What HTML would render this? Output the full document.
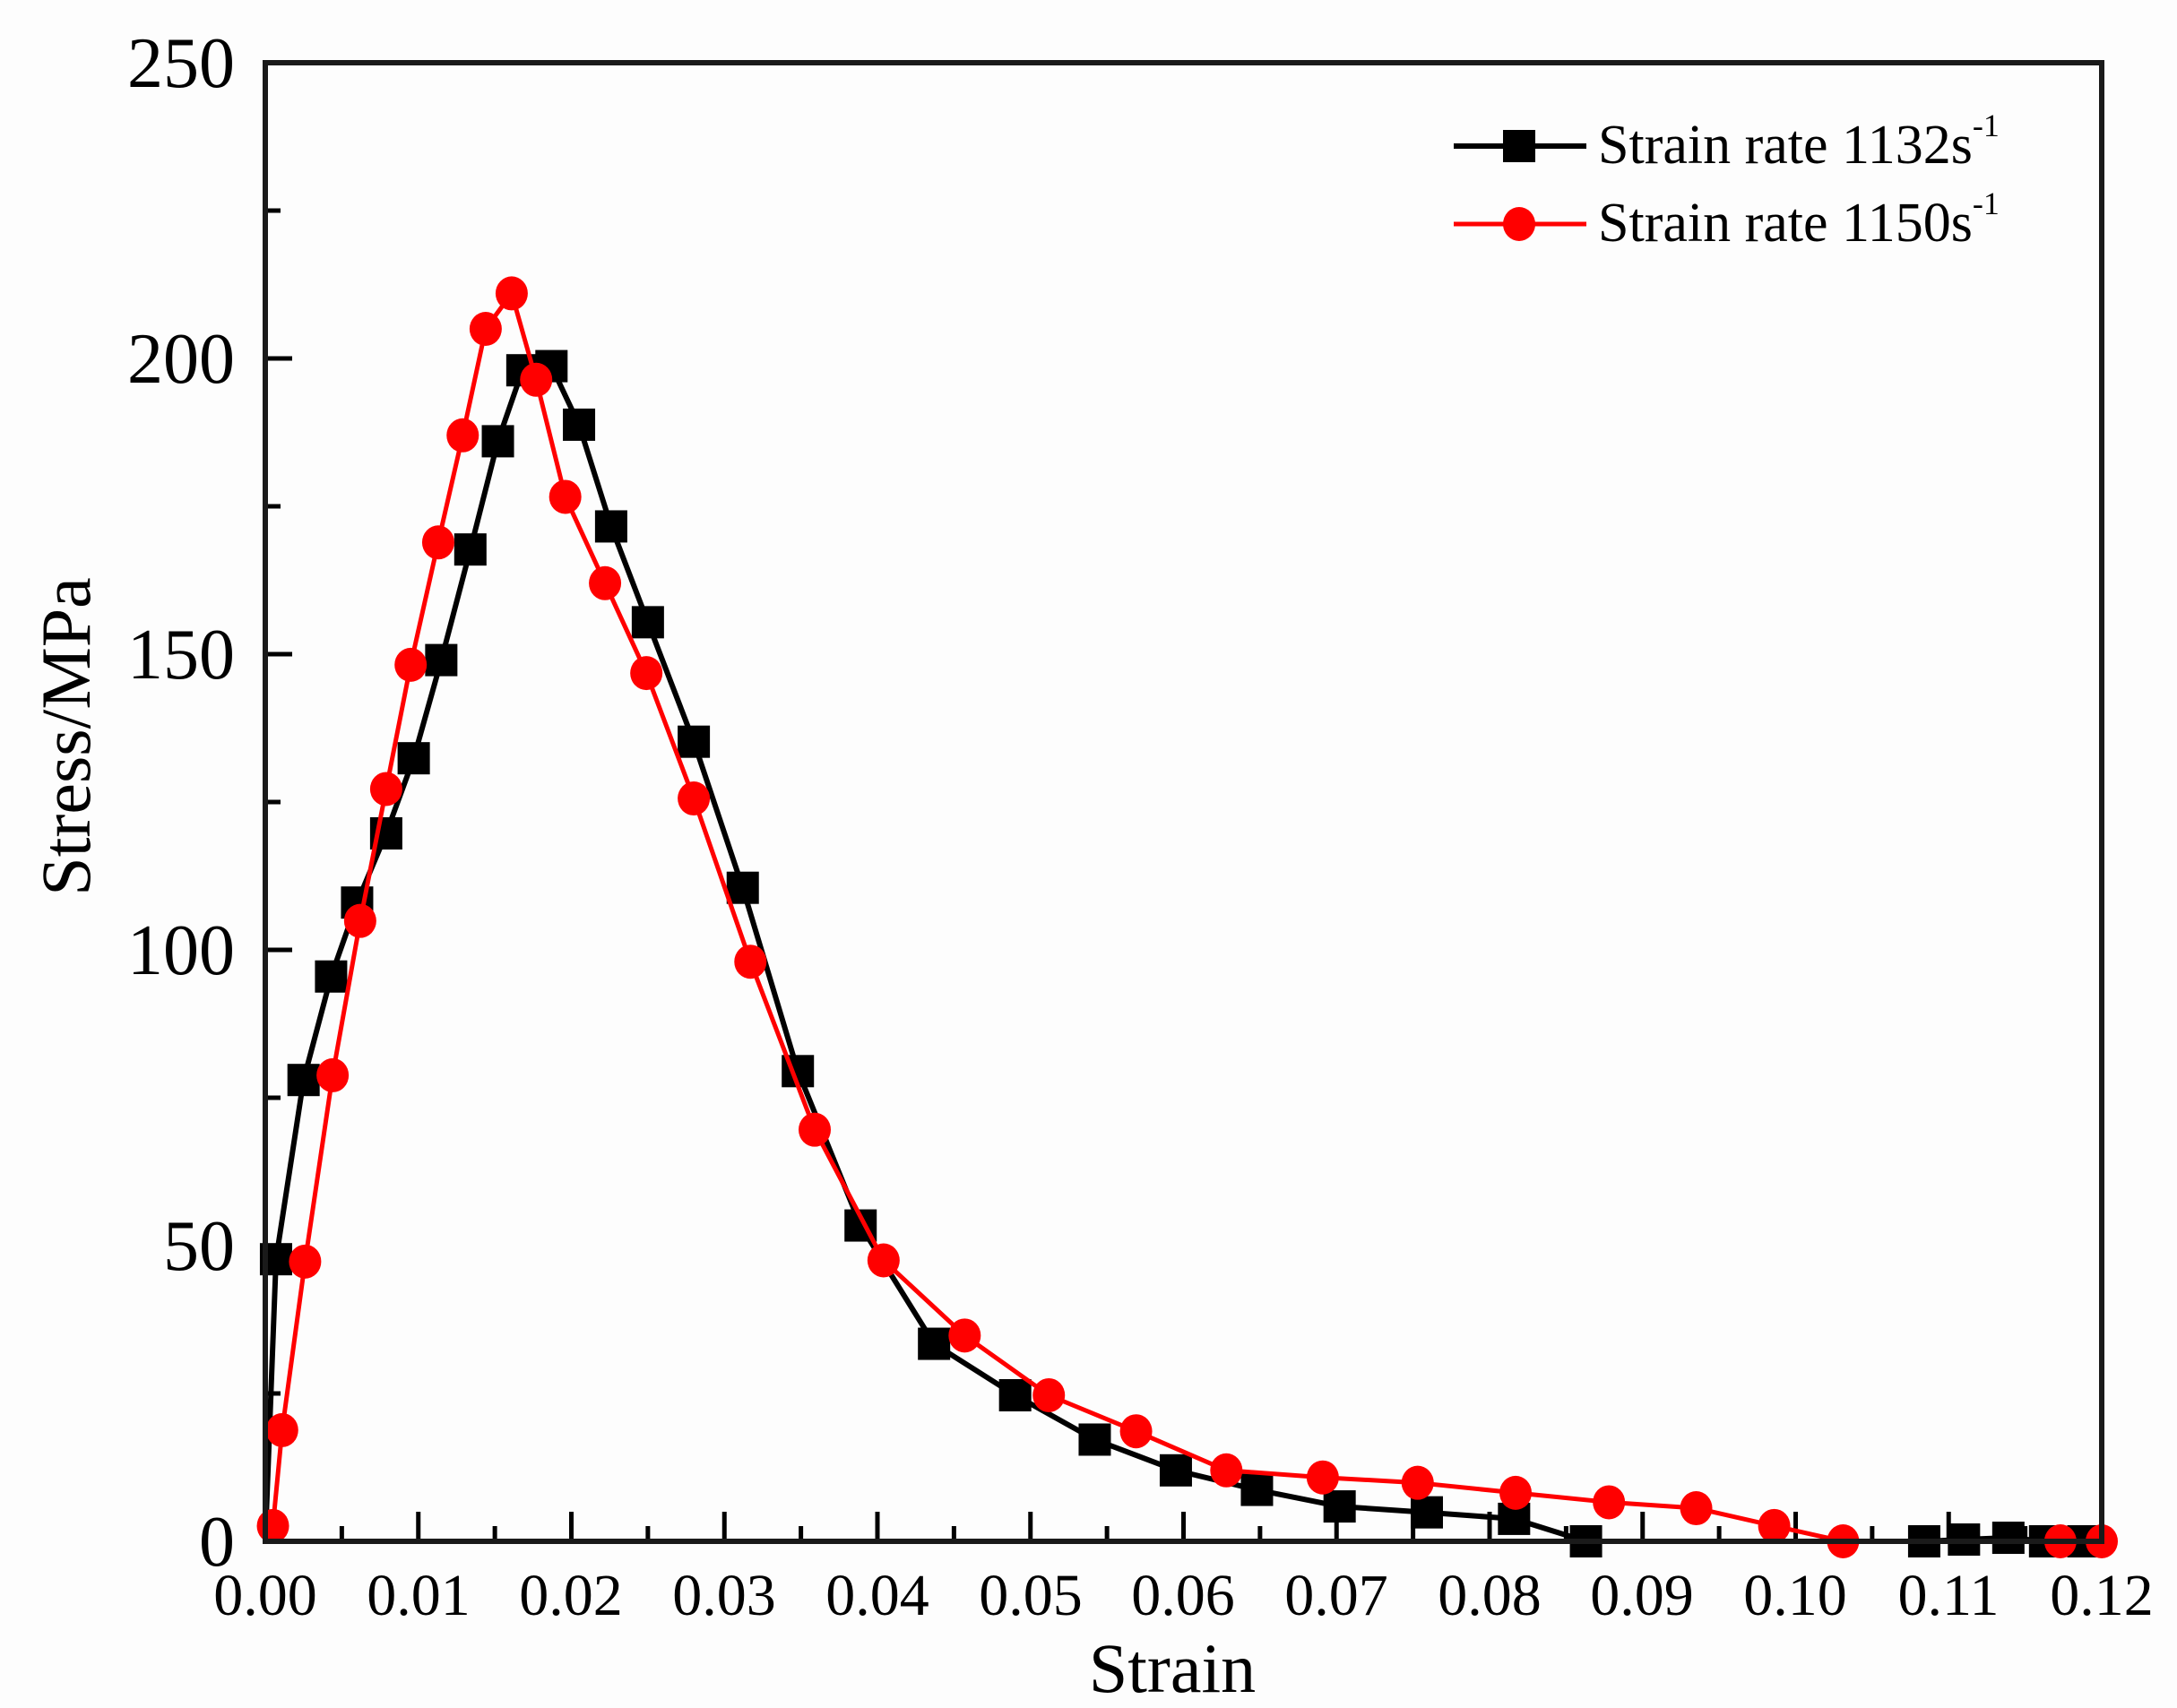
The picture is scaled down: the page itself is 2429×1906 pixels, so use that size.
<!DOCTYPE html>
<html><head><meta charset="utf-8"><style>
html,body{margin:0;padding:0;background:#fdfdfd;}
svg{display:block;}
text{font-family:"Liberation Serif",serif;fill:#000;}
</style></head><body>
<svg id="s" width="2429" height="1906" viewBox="0 0 2429 1906" xmlns="http://www.w3.org/2000/svg">
<rect width="2429" height="1906" fill="#fdfdfd"/>
<g id="ticks" stroke="#000" stroke-width="5"></g>
<g id="series"></g>
<rect x="296" y="70" width="2049" height="1650" fill="none" stroke="#1a1a1a" stroke-width="6"/>
<g font-size="80" text-anchor="end">
<text x="262" y="97">250</text>
<text x="262" y="427">200</text>
<text x="262" y="757">150</text>
<text x="262" y="1087">100</text>
<text x="262" y="1417">50</text>
<text x="262" y="1747">0</text>
</g>
<g font-size="66" text-anchor="middle">
<text x="296" y="1802">0.00</text>
<text x="467" y="1802">0.01</text>
<text x="637" y="1802">0.02</text>
<text x="808" y="1802">0.03</text>
<text x="979" y="1802">0.04</text>
<text x="1150" y="1802">0.05</text>
<text x="1320" y="1802">0.06</text>
<text x="1491" y="1802">0.07</text>
<text x="1662" y="1802">0.08</text>
<text x="1832" y="1802">0.09</text>
<text x="2003" y="1802">0.10</text>
<text x="2174" y="1802">0.11</text>
<text x="2345" y="1802">0.12</text>
</g>
<text x="1308" y="1888" font-size="78" text-anchor="middle">Strain</text>
<text transform="translate(100,822) rotate(-90)" font-size="78" text-anchor="middle">Stress/MPa</text>
<g>
<line x1="1622" y1="163" x2="1770" y2="163" stroke="#000" stroke-width="6"/>
<rect x="1677" y="145" width="36" height="36" fill="#000"/>
<text x="1783" y="182" font-size="62">Strain rate 1132s<tspan font-size="36" dy="-30">-1</tspan></text>
<line x1="1622" y1="250" x2="1770" y2="250" stroke="#f00" stroke-width="5"/>
<ellipse cx="1695" cy="250" rx="18" ry="19" fill="#f00"/>
<text x="1783" y="269" font-size="62">Strain rate 1150s<tspan font-size="36" dy="-30">-1</tspan></text>
</g>
</svg>
<script>
function X(x){return 296+x/0.12*2049;}
function Y(y){return 1720-y/250*1650;}
var t=document.getElementById("ticks"),h="";
for(var i=1;i<24;i++){var x=296+i*2049/24,L=(i%2==0)?33:17;h+='<line x1="'+x+'" y1="1720" x2="'+x+'" y2="'+(1720-L)+'"/>';}
for(var i=1;i<10;i++){var y=1720-i*165,L=(i%2==0)?30:17;h+='<line x1="296" y1="'+y+'" x2="'+(296+L)+'" y2="'+y+'"/>';}
t.innerHTML=h;
var B=[[0,0],[0.0007,47.7],[0.0025,78],[0.0043,95.5],[0.006,108],[0.0079,119.7],[0.0097,132.4],[0.0115,149],[0.0134,167.7],[0.0152,186],[0.0168,198],[0.0187,198.7],[0.0205,188.8],[0.0226,171.6],[0.025,155.4],[0.028,135.2],[0.0312,110.5],[0.0348,79.5],[0.0389,53.4],[0.0437,33.4],[0.049,24.7],[0.0542,17.2],[0.0595,12],[0.0648,8.7],[0.0702,5.9],[0.0759,4.9],[0.0816,3.8],[0.0863,0],[0.1084,0],[0.111,0.3],[0.1139,0.6],[0.1163,0],[0.1188,0]];
var R=[[0,0],[0.0005,2.6],[0.0011,18.8],[0.0026,47.3],[0.0044,78.8],[0.0062,104.9],[0.0079,127.2],[0.0095,148.2],[0.0113,168.9],[0.0129,187],[0.0144,205],[0.0161,211],[0.0177,196.4],[0.0196,176.6],[0.0222,162],[0.0249,146.8],[0.028,125.6],[0.0317,98],[0.0359,69.6],[0.0404,47.5],[0.0457,34.8],[0.0512,24.7],[0.0569,18.6],[0.0628,12],[0.0691,10.8],[0.0753,9.9],[0.0817,8.2],[0.0878,6.6],[0.0935,5.6],[0.0986,2.6],[0.1031,0],[0.1173,0],[0.12,0]];
function draw(d,col,w,sq){
 var g=document.getElementById("series"),p="";
 d.forEach(function(q,i){p+=(i?"L":"M")+X(q[0]).toFixed(1)+" "+Y(q[1]).toFixed(1);});
 var s='<path d="'+p+'" fill="none" stroke="'+col+'" stroke-width="'+w+'" stroke-linejoin="round"/>';
 d.forEach(function(q,i){if(i==0)return;var x=X(q[0]),y=Y(q[1]);
  if(sq)s+='<rect x="'+(x-18)+'" y="'+(y-18)+'" width="36" height="36" fill="'+col+'"/>';
  else s+='<ellipse cx="'+x+'" cy="'+y+'" rx="18" ry="19" fill="'+col+'"/>';});
 g.innerHTML+=s;
}
draw(B,"#000",6,true);
draw(R,"#f00",5,false);
</script>
</body></html>
